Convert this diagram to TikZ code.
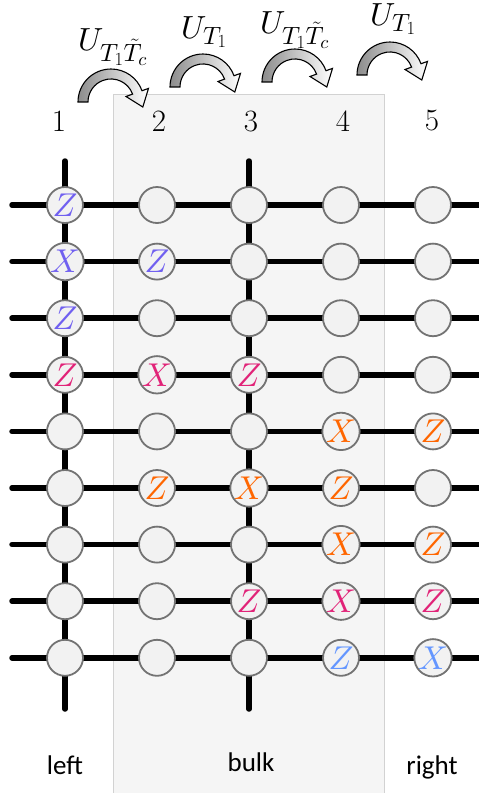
\RequirePackage{fix-cm}
\documentclass[tikz,border=0pt]{standalone}
\usepackage{fontspec}
\newfontfamily\labfont{Carlito}
\DeclareFontFamily{OML}{cmm}{\skewchar\font127 }
\DeclareFontShape{OML}{cmm}{m}{it}{<->cmmi10}{}
\DeclareFontFamily{OMS}{cmsy}{\skewchar\font48 }
\DeclareFontShape{OMS}{cmsy}{m}{n}{<->cmsy10}{}
\DeclareMathSizes{32}{32}{25}{18.5}
\definecolor{cblue}{RGB}{112,96,240}
\definecolor{cmag}{RGB}{225,35,120}
\definecolor{corange}{RGB}{255,102,0}
\definecolor{clblue}{RGB}{100,150,255}
\definecolor{bulkfill}{RGB}{245,245,245}
\definecolor{bulkedge}{RGB}{210,210,210}
\newcommand\setlbl[4]{\expandafter\def\csname L#1-#2\endcsname{\textcolor{#4}{$#3$}}}
\setlbl{1}{1}{Z}{cblue}
\setlbl{2}{1}{X}{cblue}
\setlbl{2}{2}{Z}{cblue}
\setlbl{3}{1}{Z}{cblue}
\setlbl{4}{1}{Z}{cmag}
\setlbl{4}{2}{X}{cmag}
\setlbl{4}{3}{Z}{cmag}
\setlbl{5}{4}{X}{corange}
\setlbl{5}{5}{Z}{corange}
\setlbl{6}{2}{Z}{corange}
\setlbl{6}{3}{X}{corange}
\setlbl{6}{4}{Z}{corange}
\setlbl{7}{4}{X}{corange}
\setlbl{7}{5}{Z}{corange}
\setlbl{8}{3}{Z}{cmag}
\setlbl{8}{4}{X}{cmag}
\setlbl{8}{5}{Z}{cmag}
\setlbl{9}{4}{Z}{clblue}
\setlbl{9}{5}{X}{clblue}
\begin{document}
\begin{tikzpicture}[x=1pt,y=-1pt,
  site/.style={circle, draw=black!55, line width=1.8pt, fill=black!5, minimum size=36pt, inner sep=0pt, font=\fontsize{33}{33}\selectfont},
  wire/.style={line width=5.5pt, line cap=round, black},
  numlbl/.style={font=\fontsize{31}{31}\selectfont, inner sep=0pt},
  ulbl/.style={font=\fontsize{32}{32}\selectfont, inner sep=0pt, anchor=base west},
  reglbl/.style={font=\labfont\fontsize{27}{27}\selectfont, inner sep=0pt, anchor=base},
  curvy/.pic={
    \shadedraw[left color=black!45, right color=white, draw=black, line width=1.1pt, line join=miter]
      (-33,0) arc[start angle=180, end angle=340, radius=33] -- (37.5,-13.6) -- (31.8,5) -- (15.0,-5.5) -- (21.6,-7.9) arc[start angle=340, end angle=180, radius=23] -- cycle;
  }]
\useasboundingbox (0,0) rectangle (479,793);
% bulk region
\draw[fill=bulkfill, draw=bulkedge, line width=1pt] (113,94) rectangle (384,796);
% wires
\foreach \r in {1,...,9}{
  \pgfmathsetmacro\cy{205+56.6*(\r-1)}
  \coordinate (wl-\r) at (12,\cy);
  \coordinate (wr-\r) at (482,\cy);
  \draw[wire] (wl-\r) -- (wr-\r);
}
\foreach \c in {1,3}{
  \pgfmathsetmacro\cx{65+92*(\c-1)}
  \coordinate (vt-\c) at (\cx,161);
  \coordinate (vb-\c) at (\cx,709);
  \draw[wire] (vt-\c) -- (vb-\c);
}
% sites
\foreach \r in {1,...,9}{
  \foreach \c in {1,...,5}{
    \pgfmathsetmacro\cy{205+56.6*(\r-1)}
    \pgfmathsetmacro\cx{65+92*(\c-1)}
    \node[site] (c-\r-\c) at (\cx,\cy) {\ifcsname L\r-\c\endcsname\csname L\r-\c\endcsname\fi};
  }
}
% column numbers
\node[numlbl] (n1) at (59,121) {1};
\node[numlbl] (n2) at (159,121) {2};
\node[numlbl] (n3) at (251,121) {3};
\node[numlbl] (n4) at (343,121) {4};
\node[numlbl] (n5) at (432,121) {5};
% curved arrows
\pic at (111,102) {curvy};
\pic at (203,87) {curvy};
\pic at (295,82) {curvy};
\pic at (390,75) {curvy};
% operator labels
\node[ulbl] (u1) at (78,50) {$U_{T_1\tilde{T}_c}$};
\node[ulbl] (u2) at (181,38) {$U_{T_1}$};
\node[ulbl] (u3) at (260,33) {$U_{T_1\tilde{T}_c}$};
\node[ulbl] (u4) at (370,25) {$U_{T_1}$};
% region labels
\node[reglbl] (left) at (65,774) {left};
\node[reglbl] (bulk) at (251,771) {bulk};
\node[reglbl] (right) at (432,774) {right};
\end{tikzpicture}
\end{document}
